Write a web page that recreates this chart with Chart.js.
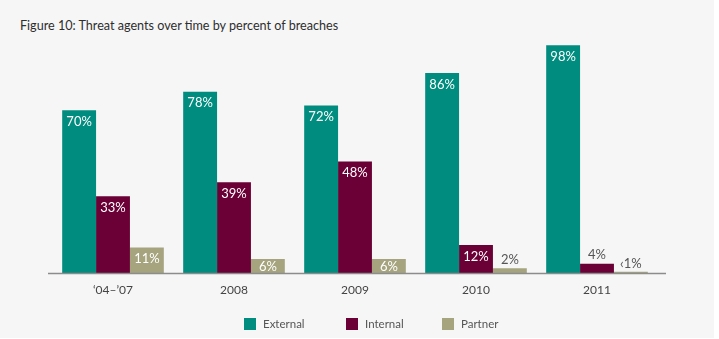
<!DOCTYPE html>
<html>
<head>
<meta charset="utf-8">
<script src="https://cdn.jsdelivr.net/npm/chart.js@4/dist/chart.umd.min.js"></script>
<style>
html,body{margin:0;padding:0;background:#ffffff;}
#wrap{position:absolute;left:0;top:0;width:714px;height:338px;background:#f6f6f6;}
#title{position:absolute;left:20px;top:18px;font-family:Lato, "Open Sans", sans-serif;font-size:12.6px;color:#2e2e2e;}
#cv{position:absolute;left:0;top:0;}
#legend{position:absolute;top:318px;left:0;font-family:Lato, "Open Sans", sans-serif;font-size:11.5px;color:#555;}
.li{position:absolute;white-space:nowrap;}
.sw{position:absolute;top:0;width:12px;height:12px;}
.lt{position:absolute;left:19px;top:-1px;}
</style>
</head>
<body>
<div id="wrap">
<div id="title">Figure 10: Threat agents over time by percent of breaches</div>
<canvas id="cv" width="714" height="338"></canvas>
<div id="legend"></div>
</div>
<script>
const categories = ["‘04–’07", "2008", "2009", "2010", "2011"];
const seriesNames = ["External", "Internal", "Partner"];
const external = [70, 78, 72, 86, 98];
const internal = [33, 39, 48, 12, 4];
const partner = [11, 6, 6, 2, 0.5];
const labelsExternal = ["70%", "78%", "72%", "86%", "98%"];
const labelsInternal = ["33%", "39%", "48%", "12%", "4%"];
const labelsPartner = ["11%", "6%", "6%", "2%", "‹1%"];
const colors = ["#008c7e", "#6a0036", "#a5a47f"];
const legendX = [244, 346, 442];

const FONT = 'Lato, "Open Sans", sans-serif';

const lg = document.getElementById('legend');
seriesNames.forEach((n, i) => {
  const d = document.createElement('div');
  d.className = 'li';
  d.style.left = legendX[i] + 'px';
  d.innerHTML = '<div class="sw" style="background:' + colors[i] + '"></div><div class="lt">' + n + '</div>';
  lg.appendChild(d);
});

const valueLabels = {
  id: 'valueLabels',
  afterDatasetsDraw(chart) {
    const ctx = chart.ctx;
    const lbls = [labelsExternal, labelsInternal, labelsPartner];
    ctx.save();
    ctx.font = '13px ' + FONT;
    ctx.textAlign = 'center';
    chart.data.datasets.forEach((ds, di) => {
      const meta = chart.getDatasetMeta(di);
      meta.data.forEach((bar, i) => {
        const h = bar.base - bar.y;
        if (h >= 12) {
          ctx.fillStyle = '#ffffff';
          ctx.textBaseline = 'top';
          ctx.fillText(lbls[di][i], bar.x, bar.y + (h < 20 ? 1 : 5));
        } else {
          ctx.fillStyle = '#555555';
          ctx.textBaseline = 'bottom';
          ctx.fillText(lbls[di][i], bar.x, bar.y - 2);
        }
      });
    });
    const a = chart.chartArea;
    ctx.strokeStyle = '#8c8c8c';
    ctx.lineWidth = 1.5;
    ctx.beginPath();
    ctx.moveTo(48, a.bottom + 0.5);
    ctx.lineTo(666, a.bottom + 0.5);
    ctx.stroke();
    ctx.restore();
  }
};

new Chart(document.getElementById('cv'), {
  type: 'bar',
  data: {
    labels: categories,
    datasets: [
      { label: seriesNames[0], data: external, backgroundColor: colors[0] },
      { label: seriesNames[1], data: internal, backgroundColor: colors[1] },
      { label: seriesNames[2], data: partner, backgroundColor: colors[2] }
    ]
  },
  options: {
    responsive: false,
    animation: false,
    devicePixelRatio: 1,
    layout: { padding: { left: 52.5, right: 56.5, top: 40.5, bottom: 30.6 } },
    plugins: {
      legend: { display: false },
      tooltip: { enabled: false }
    },
    datasets: { bar: { categoryPercentage: 0.84, barPercentage: 1.0 } },
    scales: {
      x: {
        grid: { display: false, drawTicks: false },
        border: { display: false },
        ticks: { color: '#444444', font: { family: FONT, size: 12 }, padding: 10 }
      },
      y: {
        display: false,
        min: 0, max: 100
      }
    }
  },
  plugins: [valueLabels]
});
</script>
</body>
</html>
